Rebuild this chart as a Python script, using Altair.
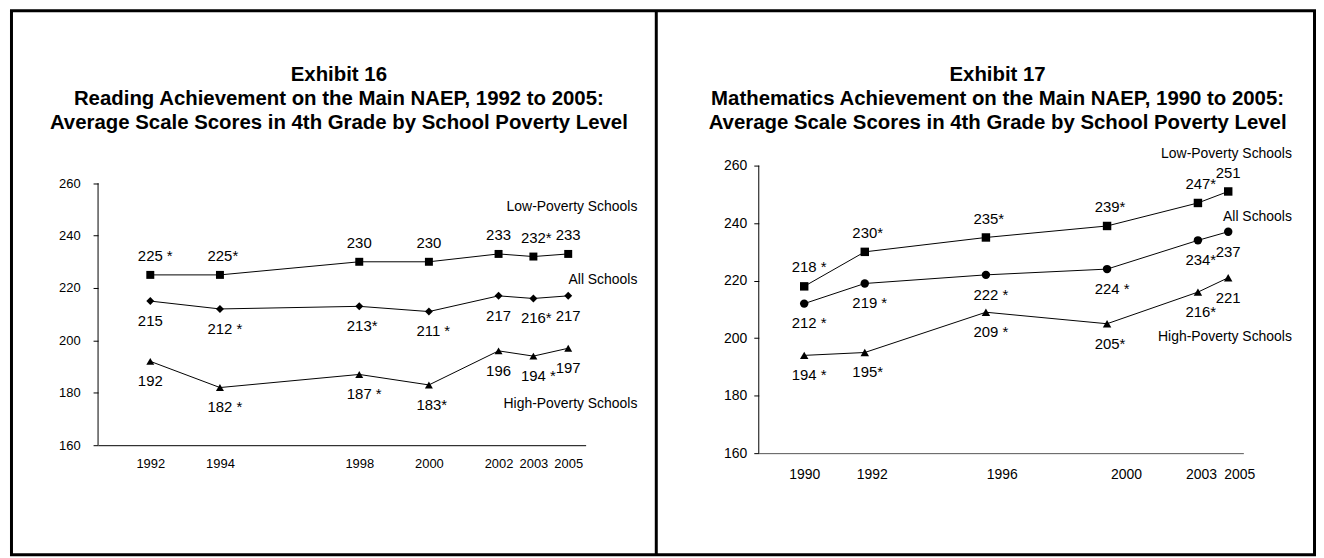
import altair as alt
import pandas as pd

FONT = "Liberation Sans"

# ---------------- Exhibit 16 (Reading) ----------------
years16 = ["1992", "1994", "1998", "2000", "2002", "2003", "2005"]
pos16 = [1992, 1994, 1998, 2000, 2002, 2003, 2004]   # plotted slot of each year
low16 = [225, 225, 230, 230, 233, 232, 233]
low16_lab = ["225 *", "225*", "230", "230", "233", "232*", "233"]
all16 = [215, 212, 213, 211, 217, 216, 217]
all16_lab = ["215", "212 *", "213*", "211 *", "217", "216*", "217"]
high16 = [192, 182, 187, 183, 196, 194, 197]
high16_lab = ["192", "182 *", "187 *", "183*", "196", "194 *", "197"]

# ---------------- Exhibit 17 (Mathematics) ----------------
years17 = ["1990", "1992", "1996", "2000", "2003", "2005"]
pos17 = [1990, 1992, 1996, 2000, 2003, 2004]
low17 = [218, 230, 235, 239, 247, 251]
low17_lab = ["218 *", "230*", "235*", "239*", "247*", "251"]
all17 = [212, 219, 222, 224, 234, 237]
all17_lab = ["212 *", "219 *", "222 *", "224 *", "234*", "237"]
high17 = [194, 195, 209, 205, 216, 221]
high17_lab = ["194 *", "195*", "209 *", "205*", "216*", "221"]

series = ["Low-Poverty Schools", "All Schools", "High-Poverty Schools"]
yticks = [160, 180, 200, 220, 240, 260]

title16 = ["Exhibit 16",
           "Reading Achievement on the Main NAEP, 1992 to 2005:",
           "Average Scale Scores in 4th Grade by School Poverty Level"]
title17 = ["Exhibit 17",
           "Mathematics Achievement on the Main NAEP, 1990 to 2005:",
           "Average Scale Scores in 4th Grade by School Poverty Level"]


def build_df(pos, years, vals, labs):
    rows = []
    for s, v, l in zip(series, vals, labs):
        for p, y, vv, ll in zip(pos, years, v, l):
            rows.append({"pos": p, "year": y, "score": vv, "label": ll, "series": s})
    return pd.DataFrame(rows)


def label_expr(pos, years):
    expr = "''"
    for p, y in reversed(list(zip(pos, years))):
        expr = f"datum.value == {p} ? '{y}' : ({expr})"
    return expr


one = pd.DataFrame({"k": [0]})
axis_span = pd.DataFrame({"score": [yticks[0]], "score2": [yticks[-1]]})


def panel(df, pos, years, xdom, ydom, width, height, shapes, size, fs_axis,
          xpad, ypad, xdomain_color, label_offset, name_offsets, title_lines,
          title_x, border=False):
    xaxis = dict(values=pos, labelExpr=label_expr(pos, years), title=None,
                 ticks=False, grid=False, domainColor=xdomain_color, domainWidth=1,
                 labelFont=FONT, labelFontSize=fs_axis, labelColor="black",
                 labelPadding=xpad, labelOverlap=False, labelFlush=False)
    if label_offset is not None:
        xaxis["labelOffset"] = label_offset
    X = alt.X("pos:Q", scale=alt.Scale(domain=xdom, nice=False, zero=False),
              axis=alt.Axis(**xaxis))
    Y = alt.Y("score:Q", scale=alt.Scale(domain=ydom, nice=False, zero=False),
              axis=alt.Axis(values=yticks, title=None, domain=False, grid=False,
                            tickSize=5, tickColor="black", tickWidth=1,
                            labelFont=FONT, labelFontSize=fs_axis, labelColor="black",
                            labelPadding=ypad, labelFlush=False, format="d"))
    base = alt.Chart(df)
    lines = base.mark_line(color="black", strokeWidth=1).encode(
        x=X, y=Y, detail="series:N")
    pts = base.mark_point(filled=True, color="black", opacity=1, size=size).encode(
        x=X, y=Y,
        shape=alt.Shape("series:N", scale=alt.Scale(domain=series, range=shapes),
                        legend=None))
    above = base.transform_filter(f"datum.series == '{series[0]}'").mark_text(
        font=FONT, fontSize=15, align="left", baseline="middle", dx=-12.5, dy=-19,
        color="black").encode(x=X, y=Y, text="label:N")
    below = base.transform_filter(f"datum.series != '{series[0]}'").mark_text(
        font=FONT, fontSize=15, align="left", baseline="middle", dx=-12.5, dy=20,
        color="black").encode(x=X, y=Y, text="label:N")
    names = []
    for s, (ddx, ddy) in zip(series, name_offsets):
        names.append(
            base.transform_filter(f"datum.series == '{s}' && datum.pos == {pos[-1]}")
            .mark_text(font=FONT, fontSize=14, align="right", baseline="middle",
                       dx=ddx, dy=ddy, color="black")
            .encode(x=X, y=Y, text="series:N"))
    yline = alt.Chart(axis_span).mark_rule(color="black", strokeWidth=1).encode(
        x=alt.value(0), x2=alt.value(0), y=Y, y2="score2:Q")
    title = alt.Chart(one).mark_text(
        font=FONT, fontSize=20.5, fontWeight="bold", align="center",
        baseline="alphabetic", lineHeight=24, color="black").encode(
        x=alt.value(title_x), y=alt.value(-85), text=alt.value(title_lines))
    layers = [lines, pts, above, below] + names + [yline, title]
    if border:
        box = alt.Chart(one).mark_rect(fillOpacity=0, stroke="black", strokeWidth=3).encode(
            x=alt.value(-87), x2=alt.value(1222.5), y=alt.value(-155.5), y2=alt.value(391))
        sep = alt.Chart(one).mark_rule(color="black", strokeWidth=3).encode(
            x=alt.value(561), x2=alt.value(561), y=alt.value(-155.5), y2=alt.value(391))
        layers += [box, sep]
    return alt.layer(*layers).properties(width=width, height=height)


df16 = build_df(pos16, years16, [low16, all16, high16], [low16_lab, all16_lab, high16_lab])
df17 = build_df(pos17, years17, [low17, all17, high17], [low17_lab, all17_lab, high17_lab])

offs17 = {1992: 7, 1996: 16, 2000: 19, 2003: 3, 2004: 11}
cond17 = {"condition": [{"test": f"datum.value == {p}", "value": o} for p, o in offs17.items()],
          "value": 0}

left = panel(df16, pos16, years16, [1990.5, 2004.5], [160, 266.72], 490, 281,
             ["square", "diamond", "triangle-up"], 64, 13, 12, 13, "black", None,
             [(69.5, -47), (69.5, -16), (69.5, 56)], title16, 242, border=True)
right = panel(df17, pos17, years17, [1988.5, 2004.5], [160, 260], 487, 289,
              ["square", "circle", "triangle-up"], 72, 14, 14, 7, "#555555", cond17,
              [(64, -38), (64, -15), (64, 60)], title17, 240)

chart = alt.hconcat(left, right, spacing=174, bounds="flush").resolve_scale(
    shape="independent"
).properties(
    padding={"left": 1.5, "top": 0, "right": 0, "bottom": 0},
    background="white",
).configure_view(stroke=None, strokeWidth=0)

chart.save("out.html", embed_options={"renderer": "svg", "actions": False})
